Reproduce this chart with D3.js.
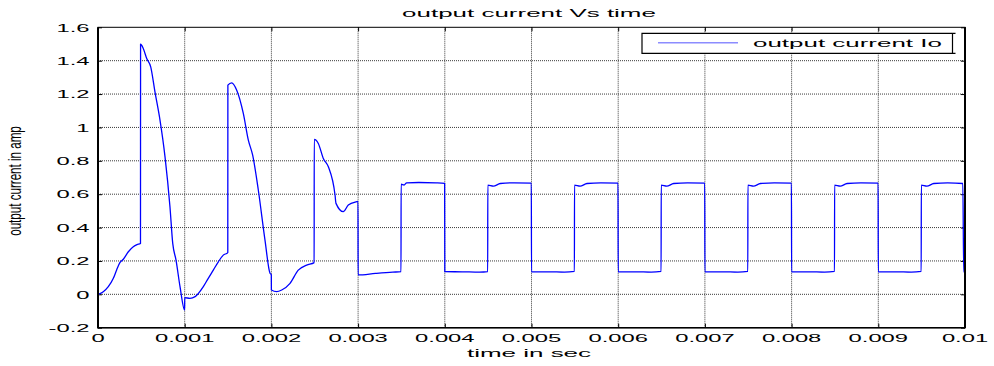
<!DOCTYPE html>
<html>
<head>
<meta charset="utf-8">
<script src="https://cdn.jsdelivr.net/npm/d3@7/dist/d3.min.js"></script>
<style>
  html, body { margin: 0; padding: 0; background: #fff; }
  svg { display: block; }
  text { font-family: "Liberation Sans", Arial, Helvetica, sans-serif; fill: #000; }
</style>
</head>
<body>
<svg id="chart" width="994" height="366"></svg>
<script>
// ---------- data ----------
const chartTitle = "output current Vs time";
const xLabel = "time in sec";
const yLabel = "output current in amp";
const legendLabel = "output current Io";

const xTicks = [0, 0.001, 0.002, 0.003, 0.004, 0.005, 0.006, 0.007, 0.008, 0.009, 0.01];
const xTickLabels = ["0", "0.001", "0.002", "0.003", "0.004", "0.005", "0.006", "0.007", "0.008", "0.009", "0.01"];
const yTicks = [-0.2, 0, 0.2, 0.4, 0.6, 0.8, 1, 1.2, 1.4, 1.6];
const yTickLabels = ["-0.2", "0", "0.2", "0.4", "0.6", "0.8", "1", "1.2", "1.4", "1.6"];

// transient part (0 .. 3 ms)
const timeTransient = [
  0, 0.000061, 0.000119, 0.000177, 0.000215, 0.000254, 0.000292, 0.000350, 0.000407, 0.000450, 0.000490,
  0.000491, 0.000522, 0.000562, 0.000608, 0.000657, 0.000715, 0.000773, 0.000830, 0.000862, 0.000900, 0.000946, 0.000999,
  0.001000, 0.001060, 0.001120, 0.001215, 0.001272, 0.001330, 0.001388, 0.001445, 0.001497,
  0.001498, 0.001542, 0.001600, 0.001676, 0.001734, 0.001784, 0.001849, 0.001926, 0.001984, 0.001999,
  0.002000, 0.002061, 0.002119, 0.002215, 0.002310, 0.002407, 0.002493,
  0.002494, 0.002541, 0.002599, 0.002657, 0.002734, 0.002745, 0.002829, 0.002887, 0.002984, 0.002999
];
const currentTransient = [
  0, 0.016, 0.046, 0.096, 0.146, 0.191, 0.210, 0.255, 0.285, 0.298, 0.305,
  1.499, 1.473, 1.413, 1.363, 1.213, 1.044, 0.824, 0.525, 0.305, 0.205, 0.046, -0.094,
  -0.020, -0.024, -0.014, 0.046, 0.096, 0.145, 0.195, 0.235, 0.250,
  1.253, 1.267, 1.223, 1.084, 0.924, 0.834, 0.625, 0.325, 0.126, 0.118,
  0.026, 0.016, 0.026, 0.066, 0.145, 0.175, 0.190,
  0.928, 0.904, 0.814, 0.764, 0.595, 0.545, 0.495, 0.535, 0.555, 0.557
];

// steady switching part (3 .. 10 ms)
const timeSteady = [
  0.003000, 0.003200, 0.003400, 0.003495,
  0.003496, 0.003530, 0.003560, 0.003700, 0.003900, 0.003998,
  0.004000, 0.004200, 0.004400, 0.004495,
  0.004496, 0.004560, 0.004640, 0.004800, 0.004998,
  0.005000, 0.005200, 0.005380, 0.005495,
  0.005496, 0.005560, 0.005640, 0.005800, 0.005998,
  0.006000, 0.006200, 0.006380, 0.006495,
  0.006496, 0.006560, 0.006640, 0.006800, 0.006998,
  0.007000, 0.007200, 0.007380, 0.007495,
  0.007496, 0.007560, 0.007640, 0.007800, 0.007998,
  0.008000, 0.008200, 0.008380, 0.008495,
  0.008496, 0.008560, 0.008640, 0.008800, 0.008998,
  0.009000, 0.009200, 0.009380, 0.009495,
  0.009496, 0.009560, 0.009640, 0.009800, 0.009975,
  0.009985, 0.010000
];
const currentSteady = [
  0.116, 0.125, 0.133, 0.136,
  0.660, 0.655, 0.668, 0.670, 0.668, 0.665,
  0.136, 0.135, 0.133, 0.136,
  0.654, 0.648, 0.664, 0.668, 0.666,
  0.135, 0.135, 0.133, 0.137,
  0.654, 0.648, 0.664, 0.668, 0.666,
  0.135, 0.135, 0.133, 0.137,
  0.654, 0.648, 0.664, 0.668, 0.666,
  0.135, 0.135, 0.133, 0.137,
  0.654, 0.648, 0.664, 0.668, 0.666,
  0.135, 0.135, 0.133, 0.137,
  0.654, 0.648, 0.664, 0.668, 0.666,
  0.135, 0.135, 0.133, 0.137,
  0.654, 0.648, 0.664, 0.668, 0.664,
  0.135, 0.135
];

// ---------- layout ----------
const svg = d3.select("#chart");
const plot = { left: 98, right: 965, top: 27.3, bottom: 327.7 };

const x = d3.scaleLinear().domain([0, 0.01]).range([plot.left, plot.right]);
const y = d3.scaleLinear().domain([-0.2, 1.6]).range([plot.bottom, plot.top]);

// clip
svg.append("defs").append("clipPath").attr("id", "clip")
  .append("rect")
  .attr("x", plot.left).attr("y", plot.top)
  .attr("width", plot.right - plot.left).attr("height", plot.bottom - plot.top);

// grid
const grid = svg.append("g").attr("class", "grid");
grid.selectAll("line.vg").data(xTicks.slice(1, -1)).join("line")
  .attr("x1", d => x(d)).attr("x2", d => x(d))
  .attr("y1", plot.top).attr("y2", plot.bottom)
  .attr("stroke", "#3a3a3a").attr("stroke-width", 1).attr("stroke-dasharray", "1,1");
grid.selectAll("line.hg").data(yTicks.slice(1, -1)).join("line")
  .attr("x1", plot.left).attr("x2", plot.right)
  .attr("y1", d => y(d)).attr("y2", d => y(d))
  .attr("stroke", "#3a3a3a").attr("stroke-width", 1).attr("stroke-dasharray", "1,1");

// inward ticks on all four sides via d3 axes
function tickAxis(axis, transform) {
  const g = svg.append("g").attr("transform", transform).call(axis);
  g.select(".domain").remove();
  g.selectAll(".tick line").attr("stroke", "#000").attr("stroke-width", 1);
  g.selectAll(".tick text").remove();
  return g;
}
tickAxis(d3.axisBottom(x).tickValues(xTicks).tickSize(-4), `translate(0,${plot.bottom})`);
tickAxis(d3.axisTop(x).tickValues(xTicks).tickSize(-4), `translate(0,${plot.top})`);
tickAxis(d3.axisLeft(y).tickValues(yTicks).tickSize(-4), `translate(${plot.left},0)`);
tickAxis(d3.axisRight(y).tickValues(yTicks).tickSize(-4), `translate(${plot.right},0)`);

// data line
const steadyPts = timeSteady.map((t, i) => [t, currentSteady[i]]);
const transientPts = timeTransient.map((t, i) => [t, currentTransient[i]]);
const allPts = transientPts.concat(steadyPts);
const line = d3.line().x(d => x(d[0])).y(d => y(d[1])).curve(d3.curveMonotoneX);
svg.append("path")
  .attr("clip-path", "url(#clip)")
  .attr("d", line(allPts))
  .attr("fill", "none")
  .attr("stroke", "#0000ff")
  .attr("stroke-width", 1.3)
  .attr("stroke-linejoin", "round");

// box
svg.append("rect")
  .attr("x", plot.left).attr("y", plot.top)
  .attr("width", plot.right - plot.left).attr("height", plot.bottom - plot.top)
  .attr("fill", "none").attr("stroke", "#000").attr("stroke-width", 1);
svg.append("line").attr("x1", plot.left).attr("x2", plot.left).attr("y1", plot.top).attr("y2", plot.bottom + 0.5)
  .attr("stroke", "#000").attr("stroke-width", 2);
svg.append("line").attr("x1", plot.left - 0.5).attr("x2", plot.right).attr("y1", plot.bottom).attr("y2", plot.bottom)
  .attr("stroke", "#000").attr("stroke-width", 1.6);
svg.append("line").attr("x1", plot.right).attr("x2", plot.right).attr("y1", plot.top).attr("y2", plot.bottom + 0.5)
  .attr("stroke", "#000").attr("stroke-width", 2);

// stretched text helper
function stretchedText(txt, px, py, size, sx, anchor) {
  return svg.append("text")
    .attr("transform", `translate(${px},${py}) scale(${sx},1)`)
    .attr("text-anchor", anchor)
    .style("font-size", size + "px")
    .text(txt);
}

// tick labels
xTicks.forEach((t, i) => stretchedText(xTickLabels[i], x(t), 341.8, 11.6, 2.05, "middle"));
yTicks.forEach((v, i) => stretchedText(yTickLabels[i], 89.5, y(v) + 4.3, 11.6, 2.05, "end"));

// title and axis labels
stretchedText(chartTitle, 529, 17.3, 11, 2.36, "middle");
stretchedText(xLabel, 529, 357, 11.3, 2.3, "middle");
svg.append("text")
  .attr("transform", `translate(21,181) rotate(-90) scale(1,1.65)`)
  .attr("text-anchor", "middle")
  .style("font-size", "11.6px")
  .text(yLabel);

// legend
const lg = svg.append("g");
lg.append("path")
  .attr("d", "M952,33.3 L642,33.3 L642,53.3 L952,53.3")
  .attr("fill", "#fff").attr("stroke", "#000").attr("stroke-width", 1.2);
lg.append("path")
  .attr("d", "M955.5,33.3 L952.5,33.3 L952.5,53.3 L955.5,53.3")
  .attr("fill", "none").attr("stroke", "#000").attr("stroke-width", 1.2);
lg.append("line")
  .attr("x1", 658).attr("x2", 738).attr("y1", 42.7).attr("y2", 42.7)
  .attr("stroke", "#8c8cff").attr("stroke-width", 1.4);
stretchedText(legendLabel, 753, 47, 11, 2.36, "start");
</script>
</body>
</html>
